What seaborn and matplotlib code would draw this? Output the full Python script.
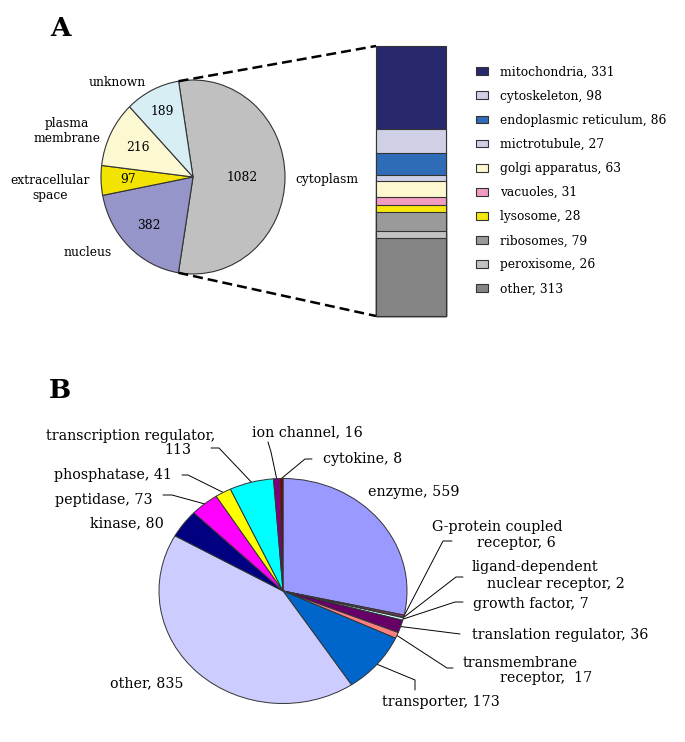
import numpy as np
import matplotlib
matplotlib.use("Agg")
import matplotlib.pyplot as plt
import seaborn as sns
from matplotlib.patches import Patch

# ---------------- data ----------------
loc_labels = ["cytoplasm", "nucleus", "extracellular\nspace", "plasma\nmembrane", "unknown"]
loc_values = [1082, 382, 97, 216, 189]
loc_colors = ["#c0c0c0", "#9595c9", "#f2e400", "#fcf9d2", "#d6eef4"]

cyto_labels = ["mitochondria", "cytoskeleton", "endoplasmic reticulum", "mictrotubule",
               "golgi apparatus", "vacuoles", "lysosome", "ribosomes", "peroxisome", "other"]
cyto_values = [331, 98, 86, 27, 63, 31, 28, 79, 26, 313]
cyto_colors = ["#28286f", "#cfcfe6", "#2f6cb8", "#cfcfe6", "#fdf8d0",
               "#f29cc2", "#f6e80c", "#9a9a9a", "#c2c2c2", "#858585"]

func_labels = ["enzyme", "G-protein coupled\nreceptor", "ligand-dependent\nnuclear receptor",
               "growth factor", "translation regulator", "transmembrane\nreceptor",
               "transporter", "other", "kinase", "peptidase", "phosphatase",
               "transcription regulator", "ion channel", "cytokine"]
func_values = [559, 6, 2, 7, 36, 17, 173, 835, 80, 73, 41, 113, 16, 8]
func_colors = ["#9999ff", "#993366", "#ffffcc", "#ccffff", "#660066", "#ff8080",
               "#0066cc", "#ccccff", "#000080", "#ff00ff", "#ffff00", "#00ffff",
               "#800080", "#800000"]

# ---------------- style ----------------
sns.set_theme(style="white")
plt.rcParams["font.family"] = ["DejaVu Serif"]
plt.rcParams["text.color"] = "black"
EDGE = "#333333"
FS_A = 8.8
FS_B = 10.3

W, H = 685, 742
fig = plt.figure(figsize=(W / 100, H / 100), dpi=100)


def px_axes(cx, cy, rx, ry):
    ax = fig.add_axes([(cx - rx) / W, (H - cy - ry) / H, 2 * rx / W, 2 * ry / H])
    return ax


# ---------------- Panel A pie ----------------
axA = px_axes(193, 177, 92, 97)
wA, _ = axA.pie(loc_values, colors=loc_colors, startangle=99, counterclock=False,
                radius=1, wedgeprops=dict(edgecolor=EDGE, linewidth=0.8))
axA.set_aspect("auto")
axA.set_xlim(-1, 1)
axA.set_ylim(-1, 1)
axA.axis("off")
for w in wA:
    w.set_clip_on(False)
num_r = [0.54, 0.69, 0.71, 0.67, 0.75]
for w, v, r in zip(wA, loc_values, num_r):
    m = np.deg2rad((w.theta1 + w.theta2) / 2)
    axA.text(r * np.cos(m), r * np.sin(m), str(v), ha="center", va="center",
             fontsize=FS_A, color="black")

# ---------------- Panel A stacked bar (seaborn) ----------------
axBar = px_axes(411, 181, 35, 135)
cum = np.cumsum(cyto_values[::-1])[::-1]
for h, c in zip(cum, cyto_colors):
    sns.barplot(x=[0], y=[h], color=c, saturation=1, width=1, errorbar=None,
                edgecolor=EDGE, linewidth=0.8, ax=axBar)
axBar.set_xlim(-0.5, 0.5)
axBar.set_ylim(0, sum(cyto_values))
axBar.axis("off")
for p in axBar.patches:
    p.set_clip_on(False)

# ---------------- overlay (pixel coordinates) ----------------
ov = fig.add_axes([0, 0, 1, 1])
ov.set_xlim(0, W)
ov.set_ylim(H, 0)
ov.axis("off")


def to_px(ax, x, y):
    return ov.transData.inverted().transform(ax.transData.transform((x, y)))


# dashed connectors from cytoplasm wedge to bar
cw = wA[0]
p_top = to_px(axA, np.cos(np.deg2rad(cw.theta2)), np.sin(np.deg2rad(cw.theta2)))
p_bot = to_px(axA, np.cos(np.deg2rad(cw.theta1)), np.sin(np.deg2rad(cw.theta1)))
b_top = to_px(axBar, -0.5, sum(cyto_values))
b_bot = to_px(axBar, -0.5, 0)
for a, b in [(p_top, b_top), (p_bot, b_bot)]:
    ov.plot([a[0], b[0]], [a[1], b[1]], color="black", lw=1.8, dashes=(4, 2),
            solid_capstyle="butt")

# outer labels panel A
A_pos = {"cytoplasm": (295, 180, "left"), "nucleus": (88, 253, "center"),
         "extracellular\nspace": (50, 188, "center"), "plasma\nmembrane": (67, 131, "center"),
         "unknown": (117, 82, "center")}
for lab in loc_labels:
    x, y, ha = A_pos[lab]
    ov.text(x, y, lab, ha=ha, va="center", fontsize=FS_A, linespacing=1.3,
            multialignment="center")

# legend
handles = [Patch(facecolor=c, edgecolor=EDGE, linewidth=0.8) for c in cyto_colors]
ov.legend(handles, [f"{n}, {v}" for n, v in zip(cyto_labels, cyto_values)],
          loc="upper left", bbox_to_anchor=(476, 65.5), bbox_transform=ov.transData,
          frameon=False, fontsize=FS_A, handlelength=0.95, handleheight=0.6,
          handletextpad=1.0, labelspacing=0.91, borderpad=0, borderaxespad=0,
          labelcolor="black")

# panel letters
ov.text(61, 29, "A", ha="center", va="center", fontsize=19, fontweight="bold")
ov.text(60, 390, "B", ha="center", va="center", fontsize=19, fontweight="bold")

# ---------------- Panel B pie ----------------
axP = px_axes(283, 591, 124, 112.5)
wB, _ = axP.pie(func_values, colors=func_colors, startangle=90, counterclock=False,
                radius=1, wedgeprops=dict(edgecolor=EDGE, linewidth=0.7))
axP.set_aspect("auto")
axP.set_xlim(-1, 1)
axP.set_ylim(-1, 1)
axP.axis("off")
for w in wB:
    w.set_clip_on(False)

# label layout: lines as (x, y, ha); leader points (pixel) ending at the wedge
B_layout = {
    "enzyme": ([(368, 492, "left")], None),
    "G-protein coupled\nreceptor": ([(432, 527, "left"), (477, 543, "left")],
                                    [(452, 541), (443, 541)]),
    "ligand-dependent\nnuclear receptor": ([(472, 567, "left"), (487, 584, "left")],
                                           [(463, 577), (456, 577)]),
    "growth factor": ([(473, 604, "left")], [(463, 602), (455, 602)]),
    "translation regulator": ([(472, 635, "left")], [(460, 634)]),
    "transmembrane\nreceptor": ([(463, 663, "left"), (500, 678, "left")],
                                [(453, 668), (447, 668)]),
    "transporter": ([(382, 702, "left")], [(415, 690), (415, 680)]),
    "other": ([(184, 683, "right")], None),
    "kinase": ([(164, 523, "right")], None),
    "peptidase": ([(153, 500, "right")], [(163, 495), (172, 495)]),
    "phosphatase": ([(172, 475, "right")], [(182, 475), (188, 475)]),
    "transcription regulator": ([(46, 436, "left"), (191, 450, "right")],
                                [(211, 448), (219, 448)]),
    "ion channel": ([(252, 432, "left")], [(268, 442), (271, 452)]),
    "cytokine": ([(323, 459, "left")], [(312, 459), (305, 459)]),
}
sep = {"transcription regulator": ",\n", "transmembrane\nreceptor": ",  "}
for w, name, v in zip(wB, func_labels, func_values):
    text = f"{name}{sep.get(name, ', ')}{v}"
    lines = text.split("\n")
    pos, leader = B_layout[name]
    for ln, (x, y, ha) in zip(lines, pos):
        ov.text(x, y, ln, ha=ha, va="center", fontsize=FS_B)
    if leader:
        m = np.deg2rad((w.theta1 + w.theta2) / 2)
        anc = to_px(axP, np.cos(m), np.sin(m))
        xs = [p[0] for p in leader] + [anc[0]]
        ys = [p[1] for p in leader] + [anc[1]]
        ov.plot(xs, ys, color="black", lw=0.7)

fig.savefig("out.png", dpi=100)
